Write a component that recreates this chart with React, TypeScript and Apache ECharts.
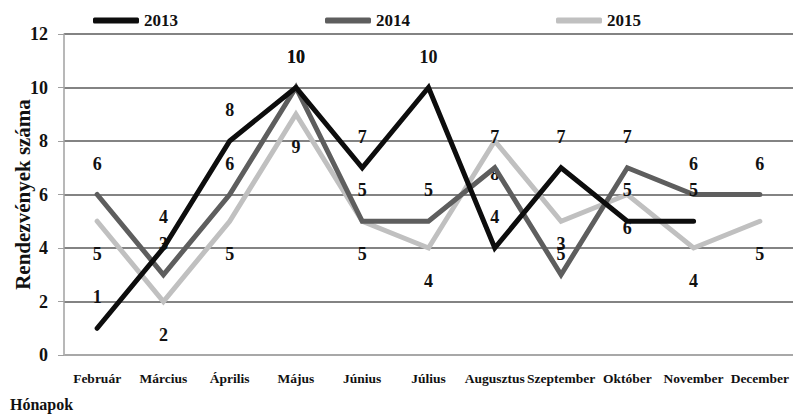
import React, { useEffect, useRef } from "react";
import * as echarts from "echarts";

const months = ["Február", "Március", "Április", "Május", "Június", "Július", "Augusztus", "Szeptember", "Október", "November", "December"];
const s2013 = [1, 4, 8, 10, 7, 10, 4, 7, 5, 5, null];
const s2014 = [6, 3, 6, 10, 5, 5, 7, 3, 7, 6, 6];
const s2015 = [5, 2, 5, 9, 5, 4, 8, 5, 6, 4, 5];
const seriesNames = ["2013", "2014", "2015"];
const seriesColors = ["#0d0d0d", "#5e5e5e", "#c0c0c0"];

const FONT = "Liberation Serif";

export default function App() {
  const ref = useRef<HTMLDivElement>(null);
  useEffect(() => {
    document.body.style.margin = "0";
    const chart = echarts.init(ref.current!, null, { renderer: "svg" });
    const mk = (name: string, data: (number | null)[], color: string, pos: "top" | "bottom") => ({
      name,
      type: "line",
      data,
      symbol: "circle",
      symbolSize: 0,
      showSymbol: true,
      connectNulls: false,
      lineStyle: { color, width: 5, cap: "round", join: "miter" },
      itemStyle: { color },
      label: {
        show: true,
        position: pos,
        distance: pos === "top" ? 22 : 24,
        color: "#111",
        fontFamily: FONT,
        fontWeight: "bold",
        fontSize: 18,
      },
      z: name === "2013" ? 3 : name === "2014" ? 2 : 1,
    });
    const legendBase = (name: string, left: number) => ({
      data: [{ name, icon: "roundRect" }],
      left,
      top: 7,
      itemWidth: 46,
      itemHeight: 6,
      itemGap: 0,
      textStyle: { fontFamily: FONT, fontWeight: "bold", fontSize: 17, color: "#111" },
    });
    chart.setOption({
      animation: false,
      backgroundColor: "#fff",
      legend: [legendBase("2013", 88), legendBase("2014", 320), legendBase("2015", 551)],
      grid: { left: 64, right: 0, top: 34, bottom: 61, outerBoundsMode: "none", containLabel: false },
      xAxis: {
        type: "category",
        data: months,
        boundaryGap: true,
        axisLine: { show: true, lineStyle: { color: "#b5b5b5", width: 1.5 } },
        axisTick: { show: false },
        axisLabel: {
          interval: 0,
          margin: 16,
          color: "#111",
          fontFamily: FONT,
          fontWeight: "bold",
          fontSize: 13.5,
        },
      },
      yAxis: {
        type: "value",
        min: 0,
        max: 12,
        interval: 2,
        name: "Rendezvények száma",
        nameLocation: "middle",
        nameGap: 31,
        nameMoveOverlap: false,
        nameTextStyle: { fontFamily: FONT, fontWeight: "bold", fontSize: 21, color: "#111" },
        axisLine: { show: true, lineStyle: { color: "#a0a0a0", width: 1.5 } },
        axisTick: { show: true, length: 6, lineStyle: { color: "#a0a0a0" } },
        axisLabel: { color: "#111", fontFamily: FONT, fontWeight: "bold", fontSize: 18, margin: 16 },
        splitLine: { show: true, lineStyle: { color: "#5a5a5a", width: 1.5 } },
      },
      graphic: [
        {
          type: "text",
          left: 10,
          top: 396,
          style: { text: "Hónapok", fontFamily: FONT, fontWeight: "bold", fontSize: 16, fill: "#111" },
        },
      ],
      series: [
        mk(seriesNames[0], s2013, seriesColors[0], "top"),
        mk(seriesNames[1], s2014, seriesColors[1], "top"),
        mk(seriesNames[2], s2015, seriesColors[2], "bottom"),
      ],
    });
    return () => chart.dispose();
  }, []);
  return <div ref={ref} style={{ width: 793, height: 416 }} />;
}
